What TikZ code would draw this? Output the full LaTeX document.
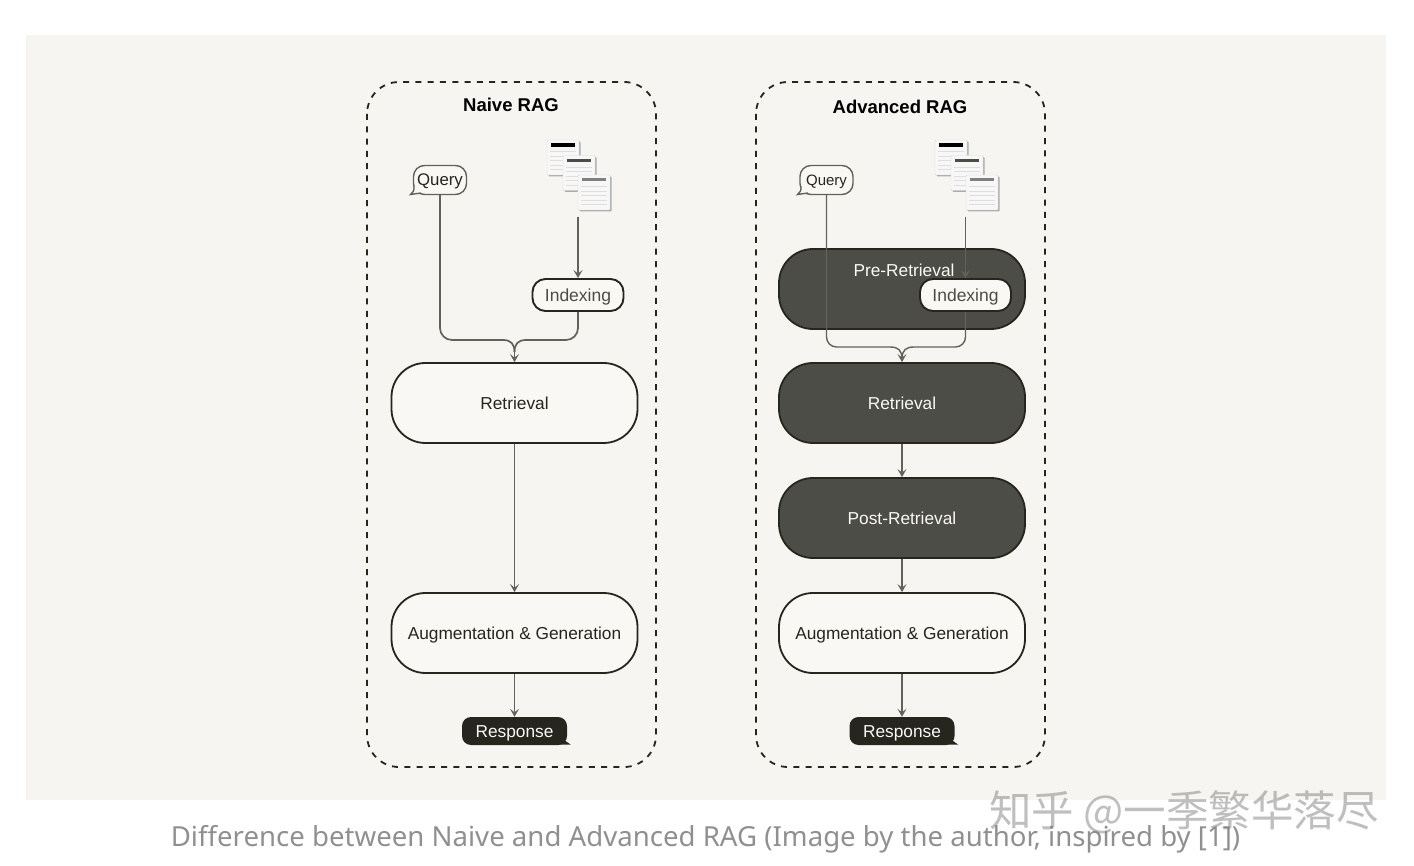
\documentclass[tikz,border=0pt]{standalone}
\usepackage{fontspec}
\setmainfont{Liberation Sans}
\newfontfamily\cjk{Noto Sans CJK SC}
\newfontfamily\capfont{Noto Sans}
\usetikzlibrary{arrows.meta,shadows}
\definecolor{panelcol}{HTML}{F6F5F1}
\definecolor{boxcol}{HTML}{F9F8F4}
\definecolor{darkcol}{HTML}{4D4D47}
\definecolor{inkcol}{HTML}{26261F}
\definecolor{linecol}{HTML}{62625C}
\definecolor{captioncol}{HTML}{909090}
\tikzset{
 frame/.style={draw=inkcol,line width=1.8pt,dash pattern=on 6pt off 6.3pt,rounded corners=32pt},
 stage/.style={draw=inkcol,line width=1.8pt,rounded corners=34pt,minimum width=246pt,minimum height=80pt,inner sep=0,text height=12.4pt,text depth=0pt,font=\fontsize{17.3}{20}\selectfont},
 lightstage/.style={stage,fill=boxcol,text=inkcol},
 darkstage/.style={stage,fill=darkcol,text=boxcol},
 indexbox/.style={draw=inkcol,line width=1.9pt,fill=boxcol,text=darkcol,rounded corners=13pt,minimum width=91pt,minimum height=32pt,inner sep=0,text height=12.4pt,text depth=0pt,font=\fontsize{17.5}{20}\selectfont},
 querybox/.style={draw=linecol,line width=1.4pt,fill=boxcol,text=inkcol,rounded corners=11pt,minimum width=53pt,minimum height=29pt,inner sep=0,text height=12pt,text depth=0pt},
 answerbox/.style={fill=inkcol,text=boxcol,rounded corners=9pt,minimum width=105pt,minimum height=28pt,inner sep=0,text height=12.4pt,text depth=0pt,font=\fontsize{17.3}{20}\selectfont},
 sheet/.style={draw=black!14,fill=black!3,minimum width=32pt,minimum height=35pt,inner sep=0,rounded corners=1pt,drop shadow={shadow xshift=1.5pt,shadow yshift=-1.5pt,fill=black!40,opacity=.8}},
 title/.style={font=\bfseries\fontsize{18.5}{20}\selectfont,text=black,inner sep=0},
 link/.style={draw=linecol,line width=1.7pt},
 thinlink/.style={draw=linecol,line width=1.4pt},
 tip/.style={-{Stealth[length=8pt,width=9pt,inset=3.5pt]}}
}
% one stack of three pages, #1 prefix, (#2,#3) top left corner
\newcommand{\docstack}[3]{
\foreach \n/\dx/\dy/\bar/\barw in {a/16/17.5/black/4,b/32/33/darkcol/3,c/47/52.5/black!50/3}{
 \node[sheet](#1\n)at(#2+\dx,#3+\dy){};
 \draw[line width=\barw pt,\bar](#2+\dx-12,#3+\dy-12.5)--(#2+\dx+12,#3+\dy-12.5);
 \foreach \k in {-6,-1.5,...,14}\draw[black!13,line width=.8pt](#2+\dx-13,#3+\dy+\k)--(#2+\dx+13,#3+\dy+\k);
}}
\begin{document}
\begin{tikzpicture}[x=1pt,y=-1pt]
\useasboundingbox(0,0)rectangle(1414,866);
\fill[white](0,0)rectangle(1414,866);
\fill[panelcol](26,35)rectangle(1386,800);
\draw[frame](367,82)rectangle(656,767);
\draw[frame](756,82)rectangle(1045,767);
\node[title](nt)at(511,105){Naive RAG};
\node[title](at)at(900,107){Advanced RAG};
% naive column
\docstack{nd}{547}{140}
\node[querybox,font=\fontsize{16.8}{20}\selectfont](nq)at(440,180){Query};
\draw[draw=linecol,line width=1.4pt,fill=boxcol](414,186)..controls(414,191)..(410.5,194.5)..controls(416,194.5)..(421,193);
\node[indexbox](ni)at(578,295){Indexing};
\node[lightstage](nr)at(514.5,403){Retrieval};
\node[lightstage](na)at(514.5,633){Augmentation \& Generation};
\node[answerbox](ns)at(514.5,731){Response};
\fill[inkcol](560,737)--(570.5,744.5)--(558,744.5)--cycle;
\coordinate(nds)at(578,217);
\coordinate(nm)at(514.5,352);
\draw[link](nq.south)--(440,328)arc(180:90:12)--(503,340)..controls(511,340)and(514.5,344)..(nm);
\draw[link](ni.south)--(578,328)arc(0:90:12)--(526,340)..controls(518,340)and(514.5,344)..(nm);
\draw[link,tip](nm)--(nr.north);
\draw[link,tip](nds)--(ni.north);
\draw[link,tip](nr.south)--(na.north);
\draw[link,tip](na.south)--(ns.north);
% advanced column
\docstack{ad}{935}{140}
\node[darkstage](ap)at(902,289){};
\node[darkstage](ar)at(902,403){Retrieval};
\node[darkstage](ao)at(902,518){Post-Retrieval};
\node[lightstage](aa)at(902,633){Augmentation \& Generation};
\node[text=boxcol,font=\fontsize{17.3}{20}\selectfont,inner sep=0,text height=12.4pt,text depth=0pt](al)at(904,270){Pre-Retrieval};
\node[indexbox](ai)at(965.5,295){Indexing};
\node[querybox,font=\fontsize{15}{20}\selectfont](aq)at(826.5,180){Query};
\draw[draw=linecol,line width=1.4pt,fill=boxcol](801,186)..controls(801,191)..(797.5,194.5)..controls(803,194.5)..(808,193);
\node[answerbox](as)at(902,731){Response};
\fill[inkcol](947.5,737)--(958,744.5)--(945.5,744.5)--cycle;
\coordinate(ads)at(965.5,217);
\coordinate(am)at(902,359);
\draw[thinlink](aq.south)--(826.5,337)arc(180:90:10)--(890,347)..controls(898,347)and(902,350)..(am);
\draw[thinlink](ai.south)--(965.5,337)arc(0:90:10)--(914,347)..controls(906,347)and(902,350)..(am);
\draw[thinlink,tip](ads)--(ai.north);
\draw[thinlink,tip](am)--(ar.north);
\draw[link,tip](ar.south)--(ao.north);
\draw[link,tip](ao.south)--(aa.north);
\draw[link,tip](aa.south)--(as.north);
% caption and mark
\node[text=captioncol,font=\capfont\fontsize{27.6}{30}\selectfont,inner sep=0,text height=20pt,text depth=0pt](cap)at(705.5,836){Difference between Naive and Advanced RAG (Image by the author, inspired by [1])};
\node[text=black!50,opacity=.5,font=\cjk\fontsize{42.5}{44}\selectfont,inner sep=0,text height=36pt,text depth=4pt](wm)at(1184,810){知乎 @一季繁华落尽};
\end{tikzpicture}
\end{document}
